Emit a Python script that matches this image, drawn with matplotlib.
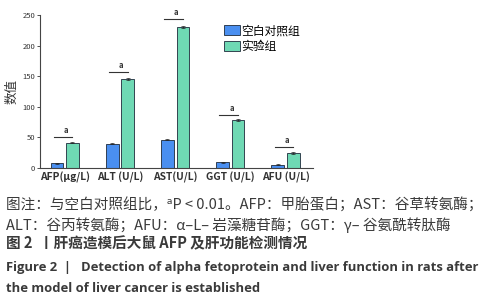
import numpy as np
import matplotlib
matplotlib.use('Agg')
from matplotlib import pyplot as plt

plt.rcParams['font.family'] = ['Noto Sans CJK SC', 'DejaVu Sans']

categories = ['AFP(μg/L)', 'ALT (U/L)', 'AST(U/L)', 'GGT (U/L)', 'AFU (U/L)']
control = [7, 39, 46, 9, 5]
experiment = [41, 145, 231, 78, 24]
control_err = [0.8, 1.0, 1.2, 0.8, 0.6]
experiment_err = [1.0, 1.2, 1.5, 1.0, 0.9]
sig_level = [51, 157, 243, 87, 34]
series_names = ['空白对照组', '实验组']

blue = '#4a8ff0'
green = '#6fd9b4'

fig = plt.figure(figsize=(4.87, 3.0), dpi=100)
ax = fig.add_axes([0.082, 0.441, 0.561, 0.509])

x = np.arange(len(categories))
w = 0.23
off = 0.14
ekw = dict(ecolor='#222222', elinewidth=0.5, capsize=1.5, capthick=0.5)
ax.bar(x - off, control, w, color=blue, edgecolor='#1e2a3a', linewidth=0.6,
       yerr=control_err, error_kw=ekw, label=series_names[0])
ax.bar(x + off, experiment, w, color=green, edgecolor='#1e2a3a', linewidth=0.6,
       yerr=experiment_err, error_kw=ekw, label=series_names[1])

for i, lvl in enumerate(sig_level):
    ax.plot([x[i] - off - 0.06, x[i] + off], [lvl, lvl], color='#333333', lw=0.8)
    ax.text(x[i] + 0.02, lvl + 3, 'a', ha='center', va='bottom', fontsize=5.5,
            fontweight='bold', color='#333333')

ax.set_xlim(-0.45, len(categories) - 0.5)
ax.set_ylim(0, 250)
ax.set_yticks([0, 50, 100, 150, 200, 250])
ax.tick_params(axis='y', labelsize=5.5, length=2, width=0.6, pad=1.5, colors='#333333')
ax.tick_params(axis='x', length=0, labelsize=7.4, pad=3, colors='#333333')
ax.set_xticks(x)
ax.set_xticklabels(categories, fontweight='bold')
ax.set_ylabel('数值', fontsize=9, color='#333333', labelpad=3)
for s in ['top', 'right']:
    ax.spines[s].set_visible(False)
for s in ['left', 'bottom']:
    ax.spines[s].set_linewidth(0.8)
    ax.spines[s].set_color('#444444')

ax.legend(loc='upper left', bbox_to_anchor=(0.655, 0.97), frameon=False, fontsize=8.5,
          handlelength=1.4, handleheight=0.9, labelspacing=0.25, handletextpad=0.1,
          borderaxespad=0)

tc = '#3a3a3a'
fig.text(0.012, 0.317, '图注：与空白对照组比，ᵃP < 0.01。AFP：甲胎蛋白；AST：谷草转氨酶；',
         fontsize=10.5, color=tc, va='center')
fig.text(0.012, 0.250, 'ALT：谷丙转氨酶；AFU：α–L– 岩藻糖苷酶；GGT：γ– 谷氨酰转肽酶',
         fontsize=10.5, color=tc, va='center')
fig.text(0.012, 0.190, '图 2  丨肝癌造模后大鼠 AFP 及肝功能检测情况',
         fontsize=10.5, color=tc, va='center', fontweight='bold')
fig.text(0.012, 0.110, 'Figure 2  |   Detection of alpha fetoprotein and liver function in rats after',
         fontsize=9.35, color=tc, va='center', fontweight='bold', family='Open Sans')
fig.text(0.012, 0.040, 'the model of liver cancer is established',
         fontsize=9.35, color=tc, va='center', fontweight='bold', family='Open Sans')

fig.savefig('out.png', dpi=100)
